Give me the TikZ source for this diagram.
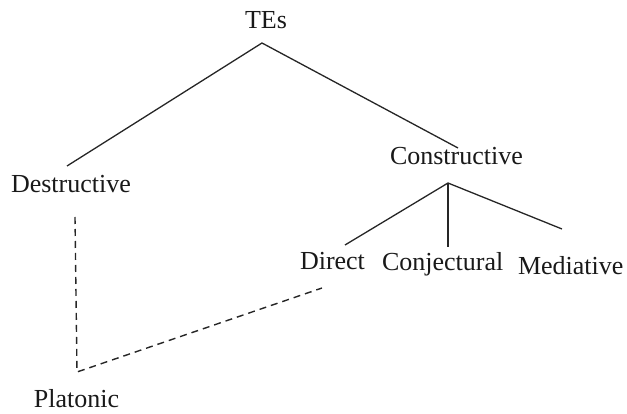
\documentclass[tikz,border=0pt]{standalone}
\usepackage{fontspec}
\setmainfont{Liberation Serif}
\begin{document}
\begin{tikzpicture}[x=1pt,y=-1pt,
  label/.style={anchor=base west,inner sep=0pt,outer sep=0pt,font=\fontsize{26}{30}\selectfont,text=black!90},
  branch/.style={line width=1.3pt,draw=black!85},
  link/.style={line width=1.4pt,draw=black!85,dash pattern=on 7pt off 5pt}]
\useasboundingbox (0,0) rectangle (627,414);
% tree labels
\node[label] (tes) at (245,29) {TEs};
\node[label] (destr) at (11,193) {Destructive};
\node[label] (constr) at (390,165) {Constructive};
\node[label] (direct) at (300,270) {Direct};
\node[label] (conj) at (382,271) {Conjectural};
\node[label] (med) at (518,275) {Mediative};
\node[label] (plat) at (34,407) {Platonic};
% branch end points
\coordinate (tesFoot) at (262,43);
\coordinate (destrHead) at (67,166);
\coordinate (constrHead) at (458,148);
\coordinate (constrFoot) at (448,183);
\coordinate (directHead) at (345,245);
\coordinate (conjHead) at (448,247);
\coordinate (medHead) at (562,229);
\coordinate (destrFoot) at (75,217);
\coordinate (platHead) at (77,372);
\coordinate (directFoot) at (322,288);
% solid branches
\draw[branch] (destrHead) -- (tesFoot) -- (constrHead);
\draw[branch] (directHead) -- (constrFoot) -- (medHead);
\draw[branch] (constrFoot) -- (conjHead);
% dashed link through Platonic
\draw[link] (destrFoot) -- (platHead) -- (directFoot);
\end{tikzpicture}
\end{document}
